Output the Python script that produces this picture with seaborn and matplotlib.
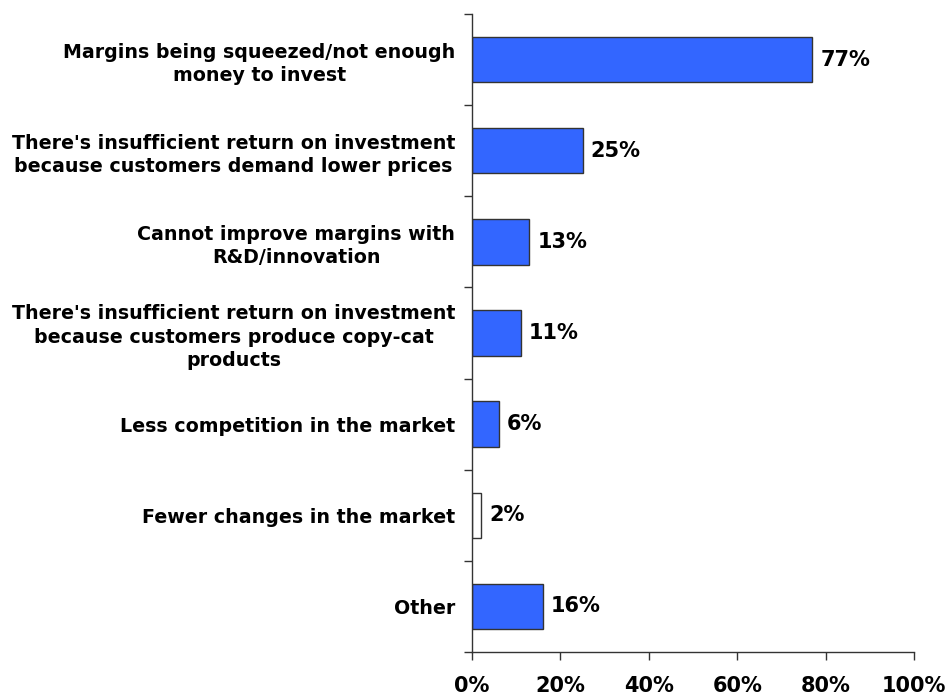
import matplotlib
matplotlib.use("Agg")
import matplotlib.pyplot as plt
import seaborn as sns
import numpy as np

categories = [
    "Margins being squeezed/not enough\nmoney to invest",
    "There's insufficient return on investment\nbecause customers demand lower prices",
    "Cannot improve margins with\nR&D/innovation",
    "There's insufficient return on investment\nbecause customers produce copy-cat\nproducts",
    "Less competition in the market",
    "Fewer changes in the market",
    "Other",
]
values = [77, 25, 13, 11, 6, 2, 16]
bar_colors = ["#3366FF", "#3366FF", "#3366FF", "#3366FF", "#3366FF", "#FFFFFF", "#3366FF"]
x_ticks = [0, 20, 40, 60, 80, 100]
x_tick_labels = ["0%", "20%", "40%", "60%", "80%", "100%"]

sns.set_style("white")
plt.rcParams["font.family"] = ["DejaVu Sans"]
plt.rcParams["font.weight"] = "bold"
plt.rcParams["text.color"] = "black"
plt.rcParams["xtick.color"] = "#333333"
plt.rcParams["ytick.color"] = "#333333"
plt.rcParams["xtick.labelcolor"] = "black"
plt.rcParams["ytick.labelcolor"] = "black"

fig = plt.figure(figsize=(9.49, 6.96), dpi=100)
ax = fig.add_axes([0.4974, 0.0632, 0.9631 - 0.4974, 0.9799 - 0.0632])

sns.barplot(x=values, y=categories, hue=categories, palette=bar_colors,
            legend=False, width=0.5, edgecolor="#333333", linewidth=1,
            orient="h", ax=ax, saturation=1)

ax.set_xlim(0, 100)
ax.set_ylim(len(categories) - 0.5, -0.5)
ax.set_xticks(x_ticks)
ax.set_xticklabels(x_tick_labels, fontsize=15, fontweight="bold")
ax.tick_params(axis="x", bottom=True, direction="out", length=6, width=1, pad=11)
ax.tick_params(axis="y", which="major", left=False, length=0, pad=12, labelsize=13.7)
for lbl in ax.get_yticklabels():
    lbl.set_fontweight("bold")
    lbl.set_horizontalalignment("right")
    lbl.set_multialignment("center")
    lbl.set_linespacing(1.3)
ax.set_yticks(np.arange(-0.5, len(categories), 1), minor=True)
ax.tick_params(axis="y", which="minor", left=True, direction="out", length=6, width=1)

for side in ["top", "right"]:
    ax.spines[side].set_visible(False)
for side in ["left", "bottom"]:
    ax.spines[side].set_color("#333333")
    ax.spines[side].set_linewidth(1)

for cont in ax.containers:
    ax.bar_label(cont, labels=[f"{v:.0f}%" for v in cont.datavalues],
                 padding=6, fontsize=15, fontweight="bold", color="black")

ax.set_xlabel("")
ax.set_ylabel("")
fig.savefig("out.png", dpi=100)
